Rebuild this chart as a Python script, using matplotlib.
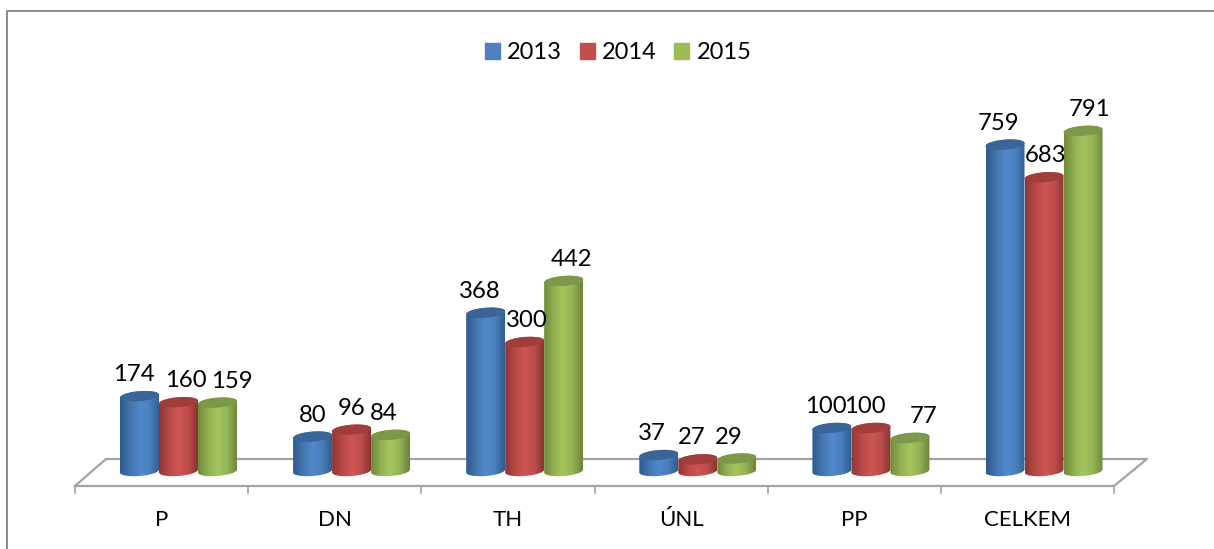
import numpy as np
from matplotlib import pyplot as plt
from matplotlib.colors import LinearSegmentedColormap
from matplotlib.lines import Line2D
from matplotlib.patches import Patch, Polygon

categories = ["P", "DN", "TH", "ÚNL", "PP", "CELKEM"]
years = ["2013", "2014", "2015"]
values_2013 = [174, 80, 368, 37, 100, 759]
values_2014 = [160, 96, 300, 27, 100, 683]
values_2015 = [159, 84, 442, 29, 77, 791]

# label nudges in pixels, the original chart has them hand placed
label_dx_2013 = [-6, 0, -6, -7, -6, -6]
label_dx_2014 = [7, 0, 2, -6, -6, 2]
label_dx_2015 = [14, -7, 8, -8, 14, 7]

W, H = 1214, 549
GROUP_PX = 173.1   # pixels per category
VALUE_PX = 0.43    # pixels per unit of value
X0_PX = 178.5      # centre of first group
BASE_PX = 471      # pixel row of value 0

BAR_W = 39 / GROUP_PX
HALF_W = 19.5 / GROUP_PX
HALF_H = 5 / VALUE_PX
TILT = 1.5 / VALUE_PX
GREY = "#a3a3a3"

ramps = [
    ["#2c5a8e", "#4475ae", "#5089cb", "#4a7fbd", "#2f5f94"],
    ["#8f3533", "#b54a47", "#cf5553", "#bd4e4b", "#8a3432"],
    ["#6f8a39", "#92b052", "#a5c65e", "#93b254", "#6b8438"],
]
top_colors = ["#3a6596", "#a03e3c", "#7d984a"]
legend_colors = ["#4f81bd", "#c0504d", "#9bbb59"]


def x_px(px):
    return (px - X0_PX) / GROUP_PX


def y_px(px):
    return (BASE_PX - px) / VALUE_PX


def ellipse(x, v, t):
    return x + HALF_W * np.cos(t), v + HALF_H * np.sin(t) + TILT * np.cos(t)


def cylinder(ax, x, v, ramp, top):
    t_low = np.linspace(np.pi, 2 * np.pi, 40)
    t_up = np.linspace(0, np.pi, 40)
    xb, yb = ellipse(x, 0, t_low)
    xt, yt = ellipse(x, v, t_up)
    body = Polygon(np.column_stack([np.r_[xb, xt], np.r_[yb, yt]]), fc="none", ec="none", zorder=3)
    ax.add_patch(body)
    cmap = LinearSegmentedColormap.from_list("c", ramp)
    im = ax.imshow(np.linspace(0, 1, 64).reshape(1, -1), cmap=cmap, aspect="auto", zorder=3,
                   extent=[x - HALF_W, x + HALF_W, -2 * HALF_H, v + 2 * HALF_H])
    im.set_clip_path(body)
    t = np.linspace(0, 2 * np.pi, 80)
    xe, ye = ellipse(x, v, t)
    ax.add_patch(Polygon(np.column_stack([xe, ye]), fc=top, ec="none", zorder=3))


plt.rcParams["font.family"] = ["Lato", "DejaVu Sans"]
fig = plt.figure(figsize=(W / 100, H / 100), dpi=100)
ax = fig.add_axes([0, 0, 1, 1])
ax.axis("off")

pos = np.arange(len(categories))
series = [values_2013, values_2014, values_2015]
nudges = [label_dx_2013, label_dx_2014, label_dx_2015]

# floor of the 3d box
front = [75 + 173.2 * i for i in range(len(categories) + 1)]
floor_x = [75, 106, 1147, 1114, 75]
floor_y = [486, 459, 459, 486, 486]
ax.plot([x_px(p) for p in floor_x], [y_px(p) for p in floor_y], color=GREY, lw=1.6, zorder=1)
for p in front:
    ax.plot([x_px(p)] * 2, [y_px(486), y_px(493)], color=GREY, lw=1.2, zorder=1)

for j, vals in enumerate(series):
    for i, v in enumerate(vals):
        x = pos[i] + (j - 1) * BAR_W
        cylinder(ax, x, v, ramps[j], top_colors[j])
        ax.annotate(str(v), (x, v), xytext=(nudges[j][i] * 0.72, 21.5 * 0.72), textcoords="offset points",
                    ha="center", va="center", fontsize=17.2, color="black", zorder=5)

for i, name in enumerate(categories):
    ax.text(x_px((front[i] + front[i + 1]) / 2), y_px(520), name, ha="center", va="center",
            fontsize=16, color="black")

ax.set_xlim(x_px(0), x_px(W))
ax.set_ylim(y_px(H), y_px(0))

handles = [Patch(color=c, label=y) for c, y in zip(legend_colors, years)]
ax.legend(handles=handles, loc="center", bbox_to_anchor=(618 / W, 1 - 52.5 / H), ncol=3, frameon=False,
          fontsize=17, handlelength=0.64, handleheight=0.64, handletextpad=0.3, columnspacing=0.75,
          labelcolor="black")

# outer chart frame, only top and left are inside the crop
fig.add_artist(Line2D([6.5 / W, 6.5 / W, 1], [0, 1 - 11 / H, 1 - 11 / H], color="#8c8c8c", lw=1.4))

fig.savefig("out.png", dpi=100, facecolor="white")
